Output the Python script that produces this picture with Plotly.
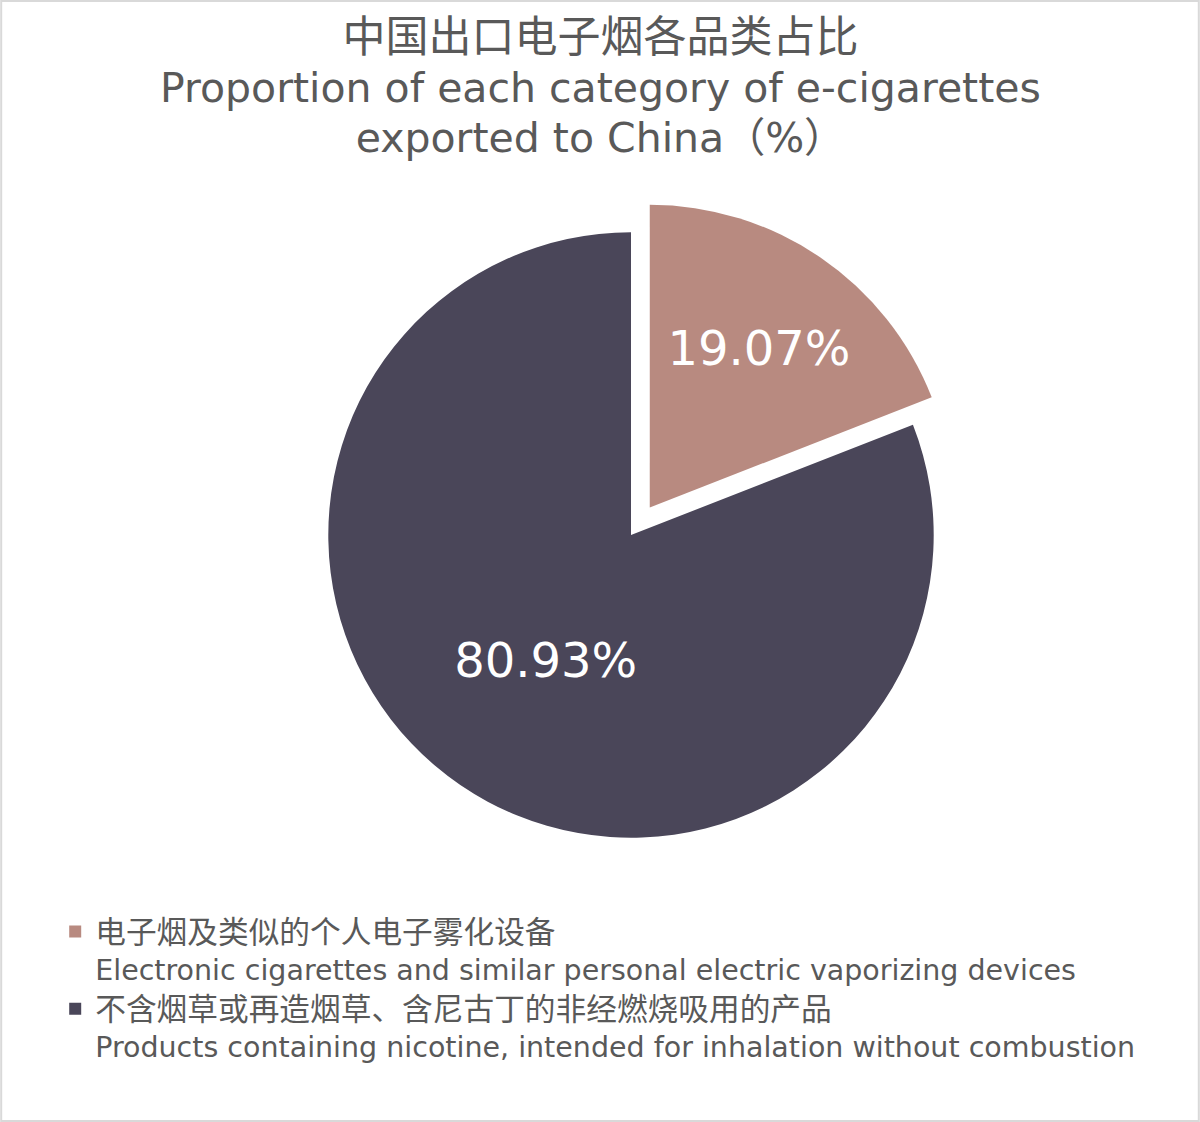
import plotly.graph_objects as go

labels_cn = ["电子烟及类似的个人电子雾化设备", "不含烟草或再造烟草、含尼古丁的非经燃烧吸用的产品"]
labels_en = ["Electronic cigarettes and similar personal electric vaporizing devices",
             "Products containing nicotine, intended for inhalation without combustion"]
values = [19.07, 80.93]
colors = ["#b88a80", "#4a4659"]
pulls = [0.11, 0]

title_cn = "中国出口电子烟各品类占比"
title_en = ["Proportion of each category of e-cigarettes", "exported to China（%）"]

FONT = "DejaVu Sans, Noto Sans CJK SC, sans-serif"
GREY = "#595959"

labels = [f"<span style='font-size:30.7px'>{c}</span><br>{e}" for c, e in zip(labels_cn, labels_en)]

fig = go.Figure(go.Pie(
    labels=labels,
    values=values,
    sort=False,
    direction="clockwise",
    rotation=0,
    pull=pulls,
    marker=dict(colors=colors, line=dict(color="white", width=0)),
    texttemplate="%{value:.2f}%",
    textposition="inside",
    insidetextorientation="horizontal",
    textfont=dict(color="white", size=48, family=FONT),
    hoverinfo="label+value",
    domain=dict(x=[295/1200, 967/1200], y=[1 - 871/1122, 1 - 199/1122]),
))

fig.add_annotation(
    text=f"<span style='font-size:43px'>{title_cn}</span><br>"
         + "<br>".join(f"<span style='font-size:41px'>{t}</span>" for t in title_en),
    xref="paper", yref="paper", x=0.5, y=1, xanchor="center", yanchor="top",
    yshift=-10, showarrow=False, align="center",
    font=dict(size=38.5, color=GREY, family=FONT),
)

fig.update_layout(
    width=1200, height=1122,
    paper_bgcolor="white",
    margin=dict(l=0, r=0, t=0, b=0),
    font=dict(family=FONT, color=GREY),
    legend=dict(
        x=0.046, xanchor="left", y=0.192, yanchor="top",
        font=dict(size=28.5, color=GREY, family=FONT),
        valign="top",
        bgcolor="rgba(0,0,0,0)",
    ),
    shapes=[dict(type="rect", xref="paper", yref="paper", x0=0.001, x1=0.999, y0=0.001, y1=0.999,
                 line=dict(color="#d9d9d9", width=2))],
)

fig.write_html("out.html", config={"displayModeBar": False},
               post_script="document.body.style.margin='0';document.body.style.overflow='hidden';")
